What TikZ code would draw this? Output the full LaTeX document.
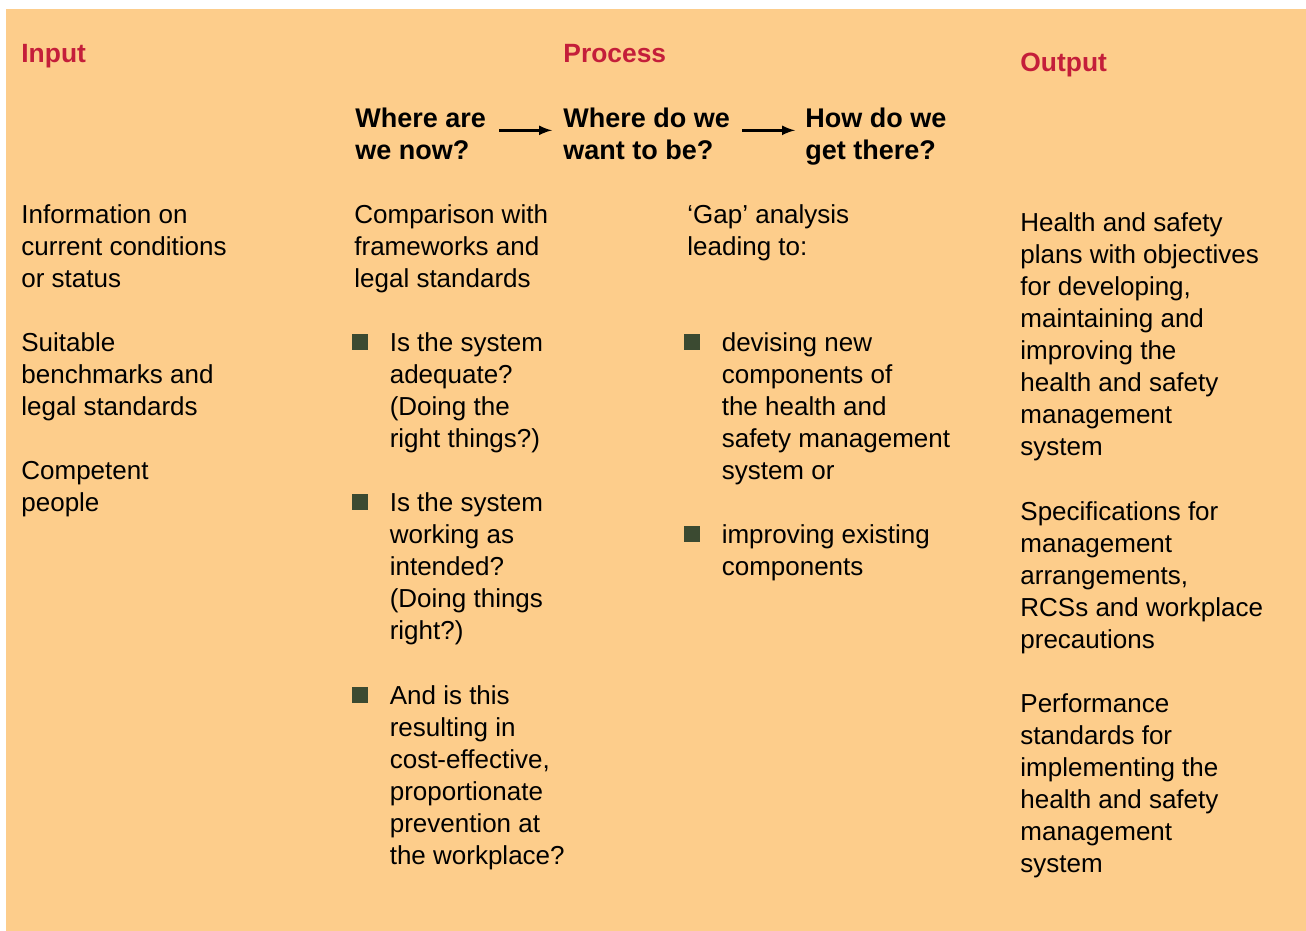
\documentclass[tikz,border=0pt]{standalone}
\usepackage{fontspec}
\setmainfont{Liberation Sans}
\usetikzlibrary{positioning}
\usetikzlibrary{arrows}
\definecolor{panel}{HTML}{FDCD8B}
\definecolor{titlered}{HTML}{C41E3A}
\definecolor{bulletgreen}{HTML}{3B4A31}
\tikzset{x=0.5pt, y=-0.5pt, % One unit is one pixel of the layout, y runs downwards
heading/.style={ % Red column titles
anchor=base west,
inner sep=0pt,
text=titlered,
font=\fontsize{13.2}{16}\selectfont\bfseries},
question/.style={ % The three black questions (placed by their last line)
anchor=base west,
inner sep=0pt,
align=left,
font=\fontsize{13.5}{16}\selectfont\bfseries},
body/.style={ % Plain text of the columns (placed by their last line)
anchor=base west,
inner sep=0pt,
align=left,
font=\fontsize{13}{16}\selectfont},
bullet/.style={ % Square list marks
fill=bulletgreen,
minimum size=8pt,
inner sep=0pt},
flow/.style={ % Arrows between the questions
draw,
-latex,
line width=1.2pt}}

\begin{document}
\begin{tikzpicture}
\useasboundingbox (0,0) rectangle (1306,931);
\fill[panel] (6,9) rectangle (1306,931);
% column titles
\node[heading] (input) at (21,63) {Input};
\node[heading] (process) at (563,63) {Process};
\node[heading] (output) at (1020,72) {Output};
% questions
\node[question] (now) at (355,159) {Where are\\we now?};
\node[question] (want) at (563,159) {Where do we\\want to be?};
\node[question] (how) at (805,159) {How do we\\get there?};
\draw[flow, shorten <=6.5pt, shorten >=5.5pt] ([yshift=1.5pt]now.east) -- ([yshift=1.5pt]now.east -| want.west);
\draw[flow, shorten <=6pt, shorten >=5pt] ([yshift=1.5pt]want.east) -- ([yshift=1.5pt]want.east -| how.west);
% input column
\node[body] (info) at (21,287) {Information on\\current conditions\\or status};
\node[body] (bench) at (21,415) {Suitable\\benchmarks and\\legal standards};
\node[body] (people) at (21,511) {Competent\\people};
% comparison column
\node[body] (compare) at (354,287) {Comparison with\\frameworks and\\legal standards};
\node[bullet] (b1) at (360,342) {};
\node[body] (b1t) at ([shift={(21,105)}]b1.east) {Is the system\\adequate?\\(Doing the\\right things?)};
\node[bullet] (b2) at (360,502) {};
\node[body] (b2t) at ([shift={(21,137)}]b2.east) {Is the system\\working as\\intended?\\(Doing things\\right?)};
\node[bullet] (b3) at (360,695) {};
\node[body] (b3t) at ([shift={(21,169)}]b3.east) {And is this\\resulting in\\cost-effective,\\proportionate\\prevention at\\the workplace?};
% gap column
\node[body] (gap) at (687,255) {‘Gap’ analysis\\leading to:};
\node[bullet] (b4) at (692,342) {};
\node[body] (b4t) at ([shift={(21,137)}]b4.east) {devising new\\components of\\the health and\\safety management\\system or};
\node[bullet] (b5) at (692,534) {};
\node[body] (b5t) at ([shift={(21,41)}]b5.east) {improving existing\\components};
% output column
\node[body] (plans) at (1020,455) {Health and safety\\plans with objectives\\for developing,\\maintaining and\\improving the\\health and safety\\management\\system};
\node[body] (specs) at (1020,648) {Specifications for\\management\\arrangements,\\RCSs and workplace\\precautions};
\node[body] (perf) at (1020,872) {Performance\\standards for\\implementing the\\health and safety\\management\\system};
\end{tikzpicture}
\end{document}
